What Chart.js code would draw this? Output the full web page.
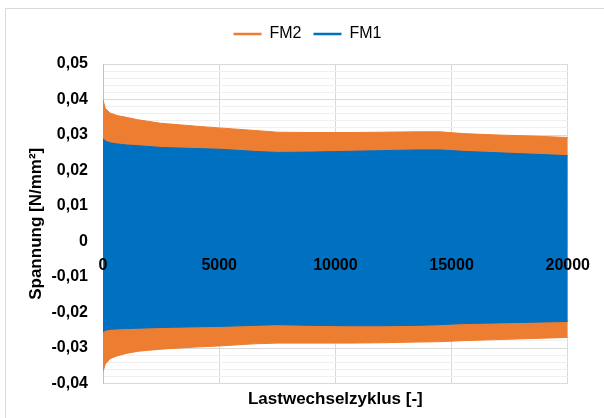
<!DOCTYPE html>
<html>
<head>
<meta charset="utf-8">
<script src="https://cdn.jsdelivr.net/npm/chart.js@4"></script>
<style>
  html, body { margin: 0; padding: 0; background: #fff; overflow: hidden; }
  #wrap { position: relative; width: 604px; height: 418px; }
  #frame { position: absolute; left: 5px; top: 8px; width: 640px; height: 500px; border: 1px solid #d9d9d9; }
  canvas { position: absolute; left: 0; top: 0; }
</style>
</head>
<body>
<div id="wrap">
  <div id="frame"></div>
  <canvas id="myChart" width="604" height="418"></canvas>
</div>
<script>
// Lastwechselzyklus (x)
const cycles = [0, 100, 300, 600, 1000, 1500, 2500, 4000, 5000, 6500, 7500, 9000, 10500, 12000, 13500, 14500, 15500, 17000, 18500, 20000];

// Hüllkurven der Spannung [N/mm²]
const fm1Upper = [0.0290, 0.0283, 0.0278, 0.0275, 0.0272, 0.0270, 0.0265, 0.0262, 0.0260, 0.0254, 0.0251, 0.0252, 0.0254, 0.0256, 0.0258, 0.0258, 0.0254, 0.0250, 0.0246, 0.0242];
const fm1Lower = [-0.0255, -0.0250, -0.0247, -0.0246, -0.0245, -0.0244, -0.0242, -0.0240, -0.0239, -0.0236, -0.0234, -0.0236, -0.0237, -0.0237, -0.0236, -0.0234, -0.0231, -0.0229, -0.0227, -0.0225];
const fm2Upper = [0.0399, 0.0375, 0.0362, 0.0355, 0.0350, 0.0343, 0.0333, 0.0325, 0.0320, 0.0313, 0.0308, 0.0307, 0.0307, 0.0308, 0.0309, 0.0309, 0.0304, 0.0300, 0.0297, 0.0293];
const fm2Lower = [-0.0366, -0.0345, -0.0330, -0.0322, -0.0315, -0.0309, -0.0303, -0.0297, -0.0294, -0.0288, -0.0286, -0.0286, -0.0286, -0.0285, -0.0283, -0.0282, -0.0279, -0.0276, -0.0273, -0.0270];

const BLUE = '#0070C0';
const ORANGE = '#ED7D31';
const FONT = "'Liberation Sans', Arial, sans-serif";

function pts(ys) {
    return cycles.map((x, i) => ({ x: x, y: ys[i] }));
}

function isMajor(v) {
    return Math.abs(Math.round(v * 1000)) % 10 === 0;
}

function band(label, ys, color, fill) {
    return {
        label: label,
        data: pts(ys),
        borderColor: color,
        backgroundColor: color,
        borderWidth: 1,
        pointRadius: 0,
        tension: 0,
        fill: fill
    };
}

// etwas mehr Platz unter der Legende und Legende leicht nach rechts
const legendTweak = {
    id: 'legendTweak',
    beforeInit(chart) {
        const fit = chart.legend.fit;
        chart.legend.fit = function () {
            fit.bind(chart.legend)();
            this.height += 12;
        };
    },
    afterLayout(chart) {
        chart.legend.left += 23;
        chart.legend.right += 23;
    }
};

const ctx = document.getElementById('myChart').getContext('2d');

new Chart(ctx, {
    type: 'line',
    data: {
        datasets: [
            band('FM1', fm1Upper, BLUE, '+1'),
            band('FM1 unten', fm1Lower, BLUE, false),
            band('FM2', fm2Upper, ORANGE, '+1'),
            band('FM2 unten', fm2Lower, ORANGE, false)
        ]
    },
    plugins: [legendTweak],
    options: {
        responsive: false,
        animation: false,
        layout: { padding: { top: 14, right: 35, bottom: 2, left: 0 } },
        plugins: {
            tooltip: { enabled: false },
            legend: {
                position: 'top',
                labels: {
                    color: '#000',
                    font: { family: FONT, size: 16 },
                    usePointStyle: true,
                    pointStyle: 'line',
                    pointStyleWidth: 28,
                    padding: 12,
                    generateLabels: function (chart) {
                        const items = Chart.defaults.plugins.legend.labels.generateLabels(chart);
                        return items
                            .filter(l => l.datasetIndex % 2 === 0)
                            .map(l => Object.assign(l, { lineWidth: 2.5, pointStyle: 'line' }))
                            .reverse();
                    }
                }
            },
            title: {
                display: true,
                position: 'bottom',
                fullSize: false,
                text: 'Lastwechselzyklus [-]',
                color: '#000',
                font: { family: FONT, size: 17, weight: 'bold' },
                padding: { top: 6, bottom: 6 }
            }
        },
        scales: {
            x: {
                type: 'linear',
                position: { y: 0 },
                min: 0,
                max: 20000,
                grid: { color: '#d9d9d9', drawTicks: false },
                border: { display: false },
                ticks: {
                    z: 1,
                    stepSize: 5000,
                    padding: 14,
                    color: '#000',
                    font: { family: FONT, size: 16, weight: 'bold' },
                    maxRotation: 0,
                    callback: v => String(v)
                }
            },
            y: {
                min: -0.04,
                max: 0.05,
                afterFit: scale => { scale.width = 103; },
                grid: {
                    drawTicks: false,
                    color: c => isMajor(c.tick.value) ? '#d9d9d9' : '#f0f0f0'
                },
                border: { color: '#bfbfbf' },
                title: {
                    display: true,
                    text: 'Spannung [N/mm²]',
                    color: '#000',
                    font: { family: FONT, size: 17, weight: 'bold' },
                    padding: { top: 26, bottom: 0 }
                },
                ticks: {
                    stepSize: 0.002,
                    autoSkip: false,
                    padding: 15,
                    color: '#000',
                    font: { family: FONT, size: 16, weight: 'bold' },
                    callback: function (v) {
                        if (!isMajor(v)) return '';
                        if (Math.abs(v) < 1e-9) return '0';
                        return (Math.round(v * 100) / 100).toFixed(2).replace('.', ',');
                    }
                }
            }
        }
    }
});
</script>
</body>
</html>
